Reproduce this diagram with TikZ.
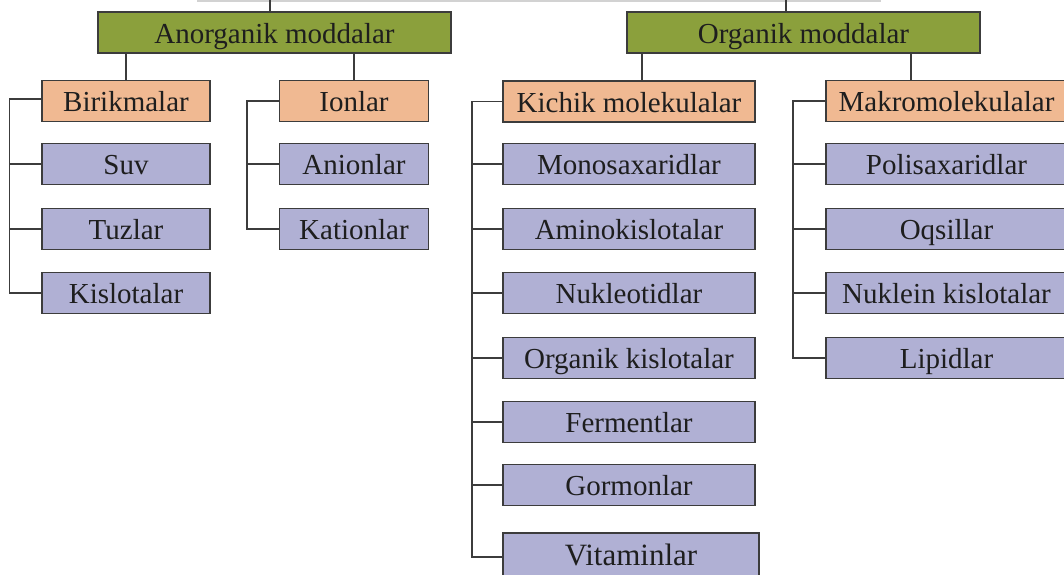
\documentclass[tikz,border=0pt]{standalone}
\usepackage{fontspec}
\setmainfont{Liberation Serif}
\definecolor{cgreen}{RGB}{139,160,60}
\definecolor{corange}{RGB}{240,185,146}
\definecolor{cblue}{RGB}{176,176,212}
\definecolor{cedge}{RGB}{60,60,60}
\definecolor{ctext}{RGB}{30,30,30}
\begin{document}
\begin{tikzpicture}[x=1pt,y=-1pt,
  box/.style={draw=cedge,line width=1.4pt,inner sep=0pt,minimum height=41pt,
    text height=21pt,text depth=0pt,text=ctext,font=\fontsize{29}{30}\selectfont},
  topbox/.style={box,fill=cgreen,minimum width=353pt},
  midbox/.style={box,fill=corange},
  leafbox/.style={box,fill=cblue},
  link/.style={draw=cedge,line width=1.4pt}]
\useasboundingbox (0,0) rectangle (1064,574);
% top partial edge
\draw[gray!35,line width=2pt] (197,0.5) -- (881,0.5);
\coordinate (t1) at (270,0);
\coordinate (t2) at (786,0);
% level 1
\node[topbox] (ano) at (274.5,32.5) {Anorganik moddalar};
\node[topbox] (org) at (803.5,32.5) {Organik moddalar};
% level 2
\node[midbox,minimum width=168pt] (bir) at (126,101) {Birikmalar};
\node[midbox,minimum width=149pt] (ion) at (354,101) {Ionlar};
\node[midbox,minimum width=252pt] (kic) at (629,101.5) {Kichik molekulalar};
\node[midbox,minimum width=241pt] (mak) at (946.5,101) {Makromolekulalar};
% leaves: Birikmalar
\node[leafbox,minimum width=168pt] (suv) at (126,164) {Suv};
\node[leafbox,minimum width=168pt] (tuz) at (126,229) {Tuzlar};
\node[leafbox,minimum width=168pt] (kis) at (126,293) {Kislotalar};
% leaves: Ionlar
\node[leafbox,minimum width=149pt] (ani) at (354,164) {Anionlar};
\node[leafbox,minimum width=149pt] (kat) at (354,229) {Kationlar};
% leaves: Kichik molekulalar
\node[leafbox,minimum width=252pt] (mon) at (629,164) {Monosaxaridlar};
\node[leafbox,minimum width=252pt] (ami) at (629,229) {Aminokislotalar};
\node[leafbox,minimum width=252pt] (nuk) at (629,293) {Nukleotidlar};
\node[leafbox,minimum width=252pt] (ork) at (629,358) {Organik kislotalar};
\node[leafbox,minimum width=252pt] (fer) at (629,422) {Fermentlar};
\node[leafbox,minimum width=252pt] (gor) at (629,485) {Gormonlar};
\node[leafbox,minimum width=256pt,minimum height=48pt,text height=16pt,
  font=\fontsize{31}{32}\selectfont] (vit) at (631,557) {Vitaminlar};
% leaves: Makromolekulalar
\node[leafbox,minimum width=241pt] (pol) at (946.5,164) {Polisaxaridlar};
\node[leafbox,minimum width=241pt] (oqs) at (946.5,229) {Oqsillar};
\node[leafbox,minimum width=241pt] (nkl) at (946.5,293) {Nuklein kislotalar};
\node[leafbox,minimum width=241pt] (lip) at (946.5,358) {Lipidlar};
% connectors top
\draw[link] (t1) -- (t1 |- ano.north);
\draw[link] (t2) -- (t2 |- org.north);
\draw[link] (bir.north) -- (bir.north |- ano.south);
\draw[link] (ion.north) -- (ion.north |- ano.south);
\draw[link] ([xshift=13pt]kic.north) -- ([xshift=13pt]kic.north |- org.south);
\draw[link] ([xshift=-35.5pt]mak.north) -- ([xshift=-35.5pt]mak.north |- org.south);
% side rails
\coordinate (r1) at (9.5,0);
\coordinate (r2) at (247,0);
\coordinate (r3) at (472,0);
\coordinate (r4) at (793,0);
\draw[link] ([yshift=2pt]bir.west) -- ([yshift=2pt]bir.west -| r1) -- (kis.west -| r1) -- (kis.west);
\foreach \n in {suv,tuz} \draw[link] (\n.west -| r1) -- (\n.west);
\draw[link] (ion.west) -- (ion.west -| r2) -- (kat.west -| r2) -- (kat.west);
\draw[link] (ani.west -| r2) -- (ani.west);
\draw[link] (kic.west) -- (kic.west -| r3) -- (vit.west -| r3) -- (vit.west);
\foreach \n in {mon,ami,nuk,ork,fer,gor} \draw[link] (\n.west -| r3) -- (\n.west);
\draw[link] (mak.west) -- (mak.west -| r4) -- (lip.west -| r4) -- (lip.west);
\foreach \n in {pol,oqs,nkl} \draw[link] (\n.west -| r4) -- (\n.west);
\end{tikzpicture}
\end{document}
